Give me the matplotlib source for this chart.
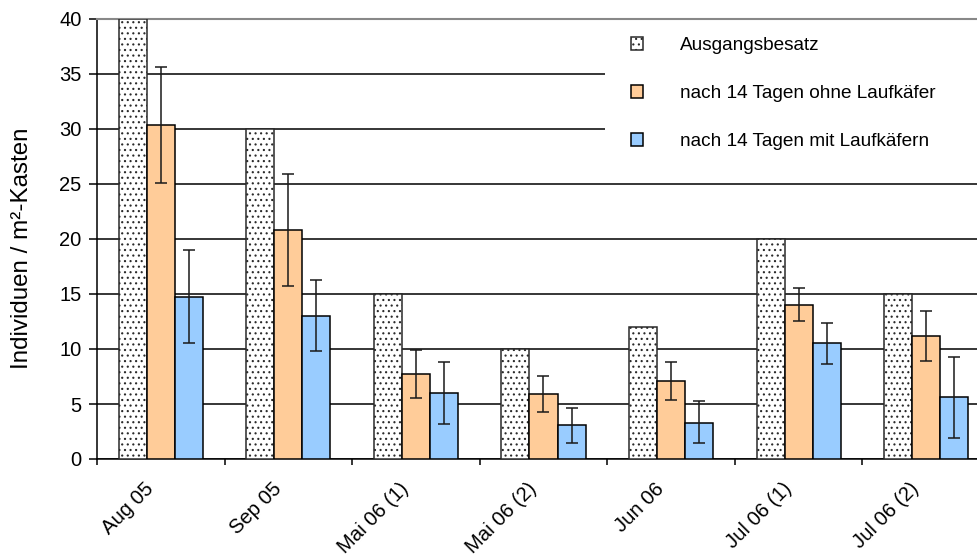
import matplotlib.pyplot as plt
import numpy as np
from matplotlib.patches import Rectangle
from matplotlib.transforms import ScaledTranslation

plt.rcParams['font.family'] = ['Liberation Sans', 'DejaVu Sans']
plt.rcParams['hatch.linewidth'] = 0.8

# sampling dates
dates = ['Aug 05', 'Sep 05', 'Mai 06 (1)', 'Mai 06 (2)', 'Jun 06', 'Jul 06 (1)', 'Jul 06 (2)']

# initial stocking (individuals per m² box)
start = [40, 30, 15, 10, 12, 20, 15]

# after 14 days without ground beetles: mean, upper and lower error
without_mean = [30.4, 20.8, 7.7, 5.9, 7.1, 14.0, 11.2]
without_hi = [35.6, 25.9, 9.95, 7.55, 8.8, 15.55, 13.45]
without_lo = [25.1, 15.7, 5.55, 4.25, 5.35, 12.5, 8.95]

# after 14 days with ground beetles
with_mean = [14.7, 13.0, 6.0, 3.05, 3.3, 10.5, 5.6]
with_hi = [19.0, 16.3, 8.8, 4.6, 5.25, 12.35, 9.25]
with_lo = [10.5, 9.8, 3.15, 1.45, 1.45, 8.65, 1.9]

fig = plt.figure(figsize=(9.78, 5.59), dpi=100)
ax = fig.add_axes([97 / 978, 100 / 559, 893 / 978, 440 / 559])

x = np.arange(len(dates))
w = 0.22

ax.bar(x - w, start, w, color='white', edgecolor='#2a2a2a', hatch='...',
       linewidth=1.1, zorder=3, label='Ausgangsbesatz')
ax.bar(x, without_mean, w, color='#FFCC99', edgecolor='black',
       linewidth=1.1, zorder=3, label='nach 14 Tagen ohne Laufkäfer')
ax.bar(x + w, with_mean, w, color='#99CCFF', edgecolor='black',
       linewidth=1.1, zorder=3, label='nach 14 Tagen mit Laufkäfern')

err_kw = dict(fmt='none', ecolor='#1a1a1a', elinewidth=1.1, capsize=4.5,
              capthick=1.1, zorder=4)
wm = np.array(without_mean)
ax.errorbar(x, wm, yerr=[wm - np.array(without_lo), np.array(without_hi) - wm], **err_kw)
mm = np.array(with_mean)
ax.errorbar(x + w, mm, yerr=[mm - np.array(with_lo), np.array(with_hi) - mm], **err_kw)

ax.set_xlim(-0.5, len(dates) - 0.5)
ax.set_ylim(0, 40)
ax.set_yticks(np.arange(0, 41, 5))
ax.yaxis.grid(True, color='black', linewidth=1.1)
ax.set_axisbelow(True)

# group boundaries as major ticks, date labels on minor ticks
ax.set_xticks(np.arange(len(dates) + 1) - 0.5)
ax.set_xticklabels([])
ax.set_xticks(x, minor=True)
ax.tick_params(axis='x', which='minor', length=0, pad=19.5)
ax.tick_params(axis='x', which='major', length=4.5, width=1.1, direction='out')
ax.tick_params(axis='y', length=5.5, width=1.1, labelsize=14.5, pad=5.5)
ax.set_xticklabels(dates, minor=True, rotation=45, ha='right', va='center',
                   rotation_mode='anchor', fontsize=14.6)
shift = ScaledTranslation(-10 / 100, 0, fig.dpi_scale_trans)
for lab in ax.get_xticklabels(minor=True):
    lab.set_transform(lab.get_transform() + shift)

ax.spines['right'].set_visible(False)
ax.spines['top'].set_color('#888888')
ax.spines['top'].set_linewidth(1.5)
ax.spines['left'].set_linewidth(1.1)
ax.spines['bottom'].set_linewidth(1.1)

ax.set_ylabel('Individuen / m²-Kasten', fontsize=17.4)
ax.yaxis.set_label_coords(-0.072, 0.478)

# white area behind the legend hides the upper gridlines
ax.add_patch(Rectangle((605 / 978, 1 - 169 / 559), 400 / 978, 148 / 559,
                       transform=fig.transFigure, facecolor='white',
                       edgecolor='none', zorder=2))

leg = ax.legend(loc='upper left', bbox_to_anchor=(631 / 978, 1 - 37 / 559),
                bbox_transform=fig.transFigure, fontsize=13.7,
                handlelength=0.65, handleheight=0.65, handletextpad=1.9,
                labelspacing=1.63, borderpad=0, borderaxespad=0,
                frameon=False)
leg.set_zorder(5)

fig.savefig('out.png', dpi=100)
